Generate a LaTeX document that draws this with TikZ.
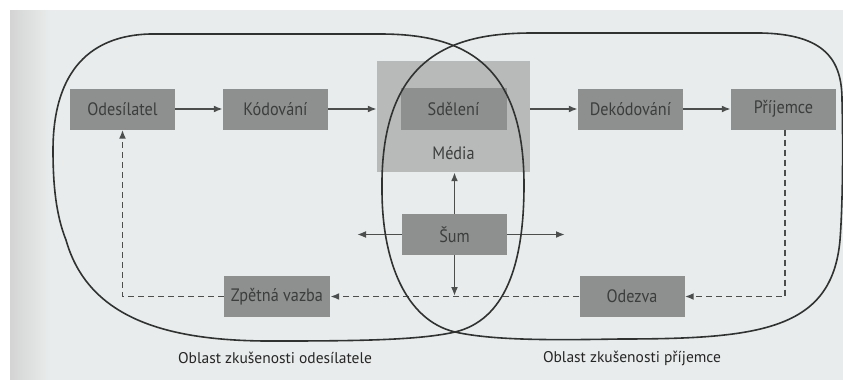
\documentclass[tikz,border=0pt]{standalone}
\usepackage{fontspec}
\setmainfont{PT Sans}[FakeStretch=0.9]
\newfontfamily\regionfont{PT Sans}
\usetikzlibrary{arrows.meta}
\definecolor{bggray}{HTML}{E9ECEC}
\definecolor{boxgray}{HTML}{8E9090}
\definecolor{medgray}{HTML}{B8BABA}
\definecolor{boxtext}{HTML}{3C3E3E}
\definecolor{linegray}{HTML}{4C4E4E}
\definecolor{blobline}{HTML}{303232}
\tikzset{
  stepbox/.style={fill=boxgray, minimum width=105, minimum height=41, inner sep=0pt, text=boxtext, font=\fontsize{18}{20}\selectfont},
  flow/.style={draw=linegray, line width=1.9pt, -{Latex[length=9pt,width=7pt]}},
  dflow/.style={draw=linegray, line width=1.9pt, dash pattern=on 6pt off 4pt, -{Latex[length=9pt,width=7pt]}},
  blob/.style={draw=blobline, line width=1.6pt},
  region/.style={text=black!85, font=\regionfont\fontsize{15.5}{17}\selectfont}
}
\begin{document}
\begin{tikzpicture}[x=1pt,y=-1pt]
\useasboundingbox (0,0) rectangle (843,380);
\fill[white] (0,0) rectangle (843,380);
\fill[bggray] (10,10) rectangle (843,380);
\shade[left color=black!17, right color=bggray] (10,10) rectangle (50,380);
% media box
\node[fill=medgray, minimum width=153, minimum height=111, inner sep=0pt] (media) at (453.5,116.5) {};
% boxes
\node[stepbox] (odes) at (122.5,109) {Odesílatel};
\node[stepbox] (kod) at (275.5,109) {Kódování};
\node[stepbox, minimum width=106, minimum height=42] (sdel) at (453.5,109) {Sdělení};
\node[text=boxtext, font=\fontsize{18}{20}\selectfont] (medlab) at (453.5,153) {Média};
\node[stepbox] (dekod) at (630.5,109) {Dekódování};
\node[stepbox] (prij) at (783.5,109) {Příjemce};
\node[stepbox] (sum) at (454.5,234.5) {Šum};
\node[stepbox, minimum width=106] (zpet) at (277,296.5) {Zpětná vazba};
\node[stepbox] (odez) at (632,296.5) {Odezva};
% coordinates
\coordinate (sl) at (357,234.5);
\coordinate (sr) at (565,234.5);
\coordinate (sd) at (454.5,296);
% solid arrows
\draw[flow] (odes) -- (kod);
\draw[flow] (kod) -- (media.west |- kod);
\draw[flow] (media.east |- dekod) -- (dekod);
\draw[flow] (dekod) -- (prij);
\draw[flow] (sum) -- (sl);
\draw[flow] (sum) -- (sr);
\draw[flow] (sum) -- (media.south -| sum);
\draw[flow] (sum) -- (sd);
% dashed
\draw[dflow] ([xshift=1.5pt]prij.south) |- (odez.east);
\draw[dflow] (odez.west) -- (zpet.east);
\draw[dflow] (zpet.west) -| (odes.south);
% blobs
\draw[blob] (53,150) .. controls (53,90) and (75,36) .. (150,34)
  -- (380,34)
  .. controls (460,34) and (524,60) .. (524,185)
  .. controls (524,265) and (505,320) .. (455,332)
  .. controls (420,340) and (360,341) .. (280,341)
  .. controls (180,342) and (90,325) .. (66,240)
  .. controls (56,215) and (53,185) .. (53,150) -- cycle;
\draw[blob] (533,33) .. controls (460,33) and (380,50) .. (382,190)
  .. controls (382,260) and (405,320) .. (455,332)
  .. controls (495,341) and (560,340) .. (620,339)
  .. controls (760,339) and (832,330) .. (840,240)
  .. controls (843,200) and (843,140) .. (842,100)
  .. controls (842,60) and (825,34) .. (760,33)
  -- cycle;
% labels
\node[region] (lsend) at (275,358) {Oblast zkušenosti odesílatele};
\node[region] (lrecv) at (632,358) {Oblast zkušenosti příjemce};
\end{tikzpicture}
\end{document}
